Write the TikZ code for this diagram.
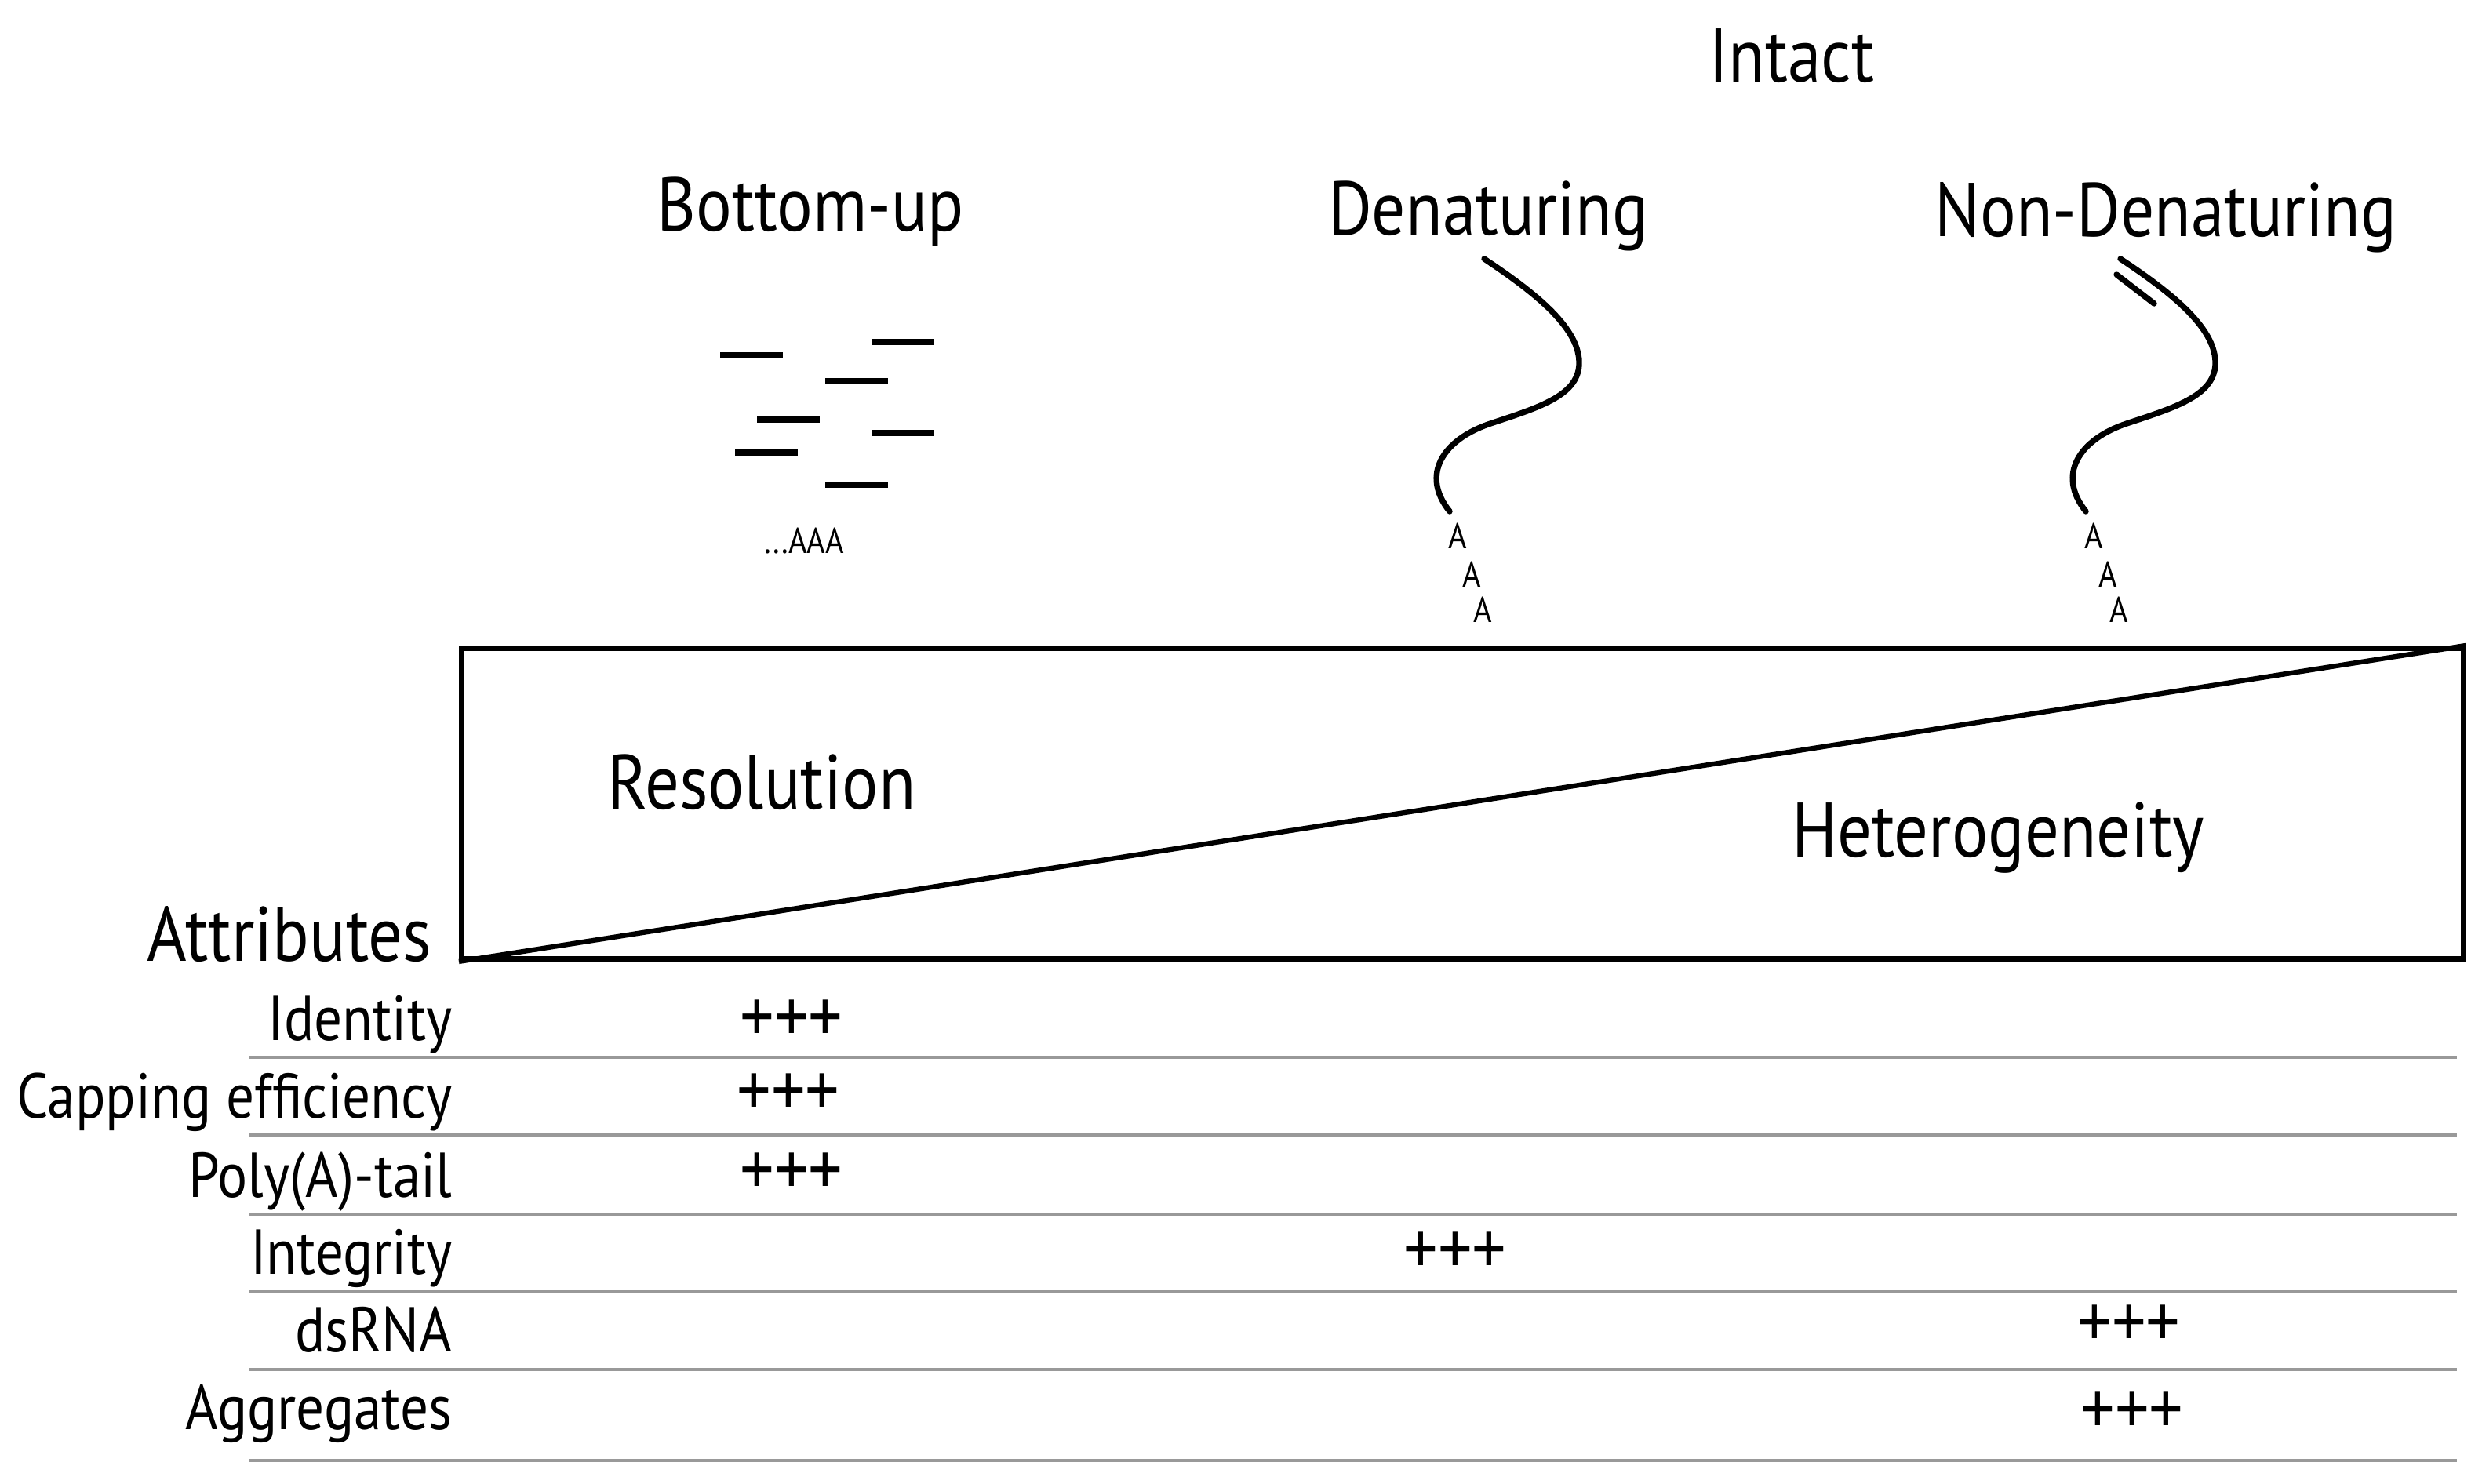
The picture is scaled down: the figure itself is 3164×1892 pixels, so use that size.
\documentclass[tikz,border=0pt]{standalone}
\usepackage{fontspec}
\setmainfont{PT Sans}[FakeStretch=0.88]
\usetikzlibrary{positioning}

\begin{document}
\begin{tikzpicture}[x=0.01cm, y=-0.01cm,
  head/.style={font=\fontsize{27.6}{32}\selectfont, inner sep=0pt, anchor=base},
  attr/.style={font=\fontsize{23}{27}\selectfont, inner sep=0pt, anchor=base east},
  plus/.style={font=\fontsize{28}{32}\selectfont, inner sep=0pt},
  tail/.style={font=\fontsize{13}{15}\selectfont, inner sep=0pt},
  frag/.style={line width=2.3pt},
  strand/.style={line width=2.1pt, line cap=round},
  rowline/.style={line width=1.2pt, black!40}]
\useasboundingbox (0,0) rectangle (3164,1892);

% headings
\node[head] (intact) at (2284,105) {Intact};
\node[head] (bottomup) at (1033,295) {Bottom-up};
\node[head] (denat) at (1897,300) {Denaturing};
\node[head] (nondenat) at (2761,302) {Non-Denaturing};

% bottom-up fragments
\foreach \x/\y in {918/453, 1111/436, 1052/486, 965/535, 1111/552, 937/577, 1052/618}
  \draw[frag] (\x,\y) -- ++(80,0);
\node[tail] (polya) at (1025,690) {...AAA};

% intact strands
\foreach \s/\n in {0/d, 811/n} {
  \begin{scope}[xshift=\s*0.01cm]
    \draw[strand] (1892,330) .. controls (1960,375) and (2015,420) .. (2013,465)
      .. controls (2011,505) and (1960,520) .. (1900,540)
      .. controls (1840,560) and (1810,605) .. (1848,652);
    \node[tail] (a1\n) at (1858,683) {A};
    \node[tail] (a2\n) at (1876,732) {A};
    \node[tail] (a3\n) at (1890,777) {A};
  \end{scope}
}
\draw[strand] (2698,350) -- (2746,387);

% resolution vs heterogeneity
\node[draw, line width=1.9pt, minimum width=25.5cm, minimum height=3.96cm,
  inner sep=0pt, anchor=north west] (scale) at (585,823) {};
\draw[line width=1.8pt] (scale.south west) -- (scale.north east);
\node[head, font=\fontsize{28}{32}\selectfont] (resol) at (971,1031) {Resolution};
\node[head, font=\fontsize{28}{32}\selectfont] (hetero) at (2547,1092) {Heterogeneity};
\node[head, font=\fontsize{28}{34}\selectfont, anchor=base east] (attrib) at (551,1225) {Attributes};

% attribute table
\foreach \n/\t/\y/\l in {ident/Identity/1326/1348, capeff/Capping efficiency/1425/1447,
    tail/Poly(A)-tail/1526/1548, integ/Integrity/1624/1647,
    dsrna/dsRNA/1723/1746, aggr/Aggregates/1822/1862} {
  \node[attr] (\n) at (577,\y) {\t};
  \draw[rowline] (317,\l) -- (3132,\l);
}
\node[plus] (pident) at (1009,1302) {+++};
\node[plus] (pcap) at (1005,1396) {+++};
\node[plus] (ptail) at (1009,1497) {+++};
\node[plus] (pinteg) at (1855,1598) {+++};
\node[plus] (pdsrna) at (2714,1691) {+++};
\node[plus] (paggr) at (2718,1802) {+++};
\end{tikzpicture}
\end{document}
